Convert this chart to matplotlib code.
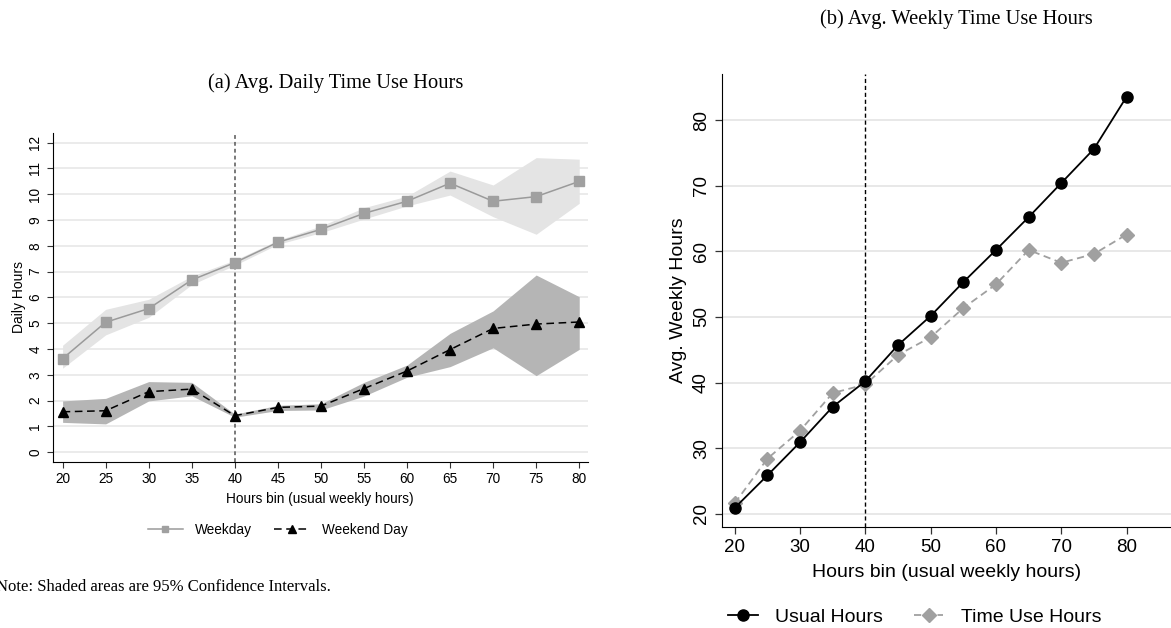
import matplotlib
matplotlib.use("Agg")
import matplotlib.pyplot as plt

# hours bins
bins = [20, 25, 30, 35, 40, 45, 50, 55, 60, 65, 70, 75, 80]

# (a) daily time use
weekday = [3.63, 5.04, 5.57, 6.68, 7.35, 8.14, 8.64, 9.26, 9.73, 10.43, 9.73, 9.91, 10.50]
weekday_lo = [3.26, 4.55, 5.23, 6.50, 7.25, 8.06, 8.51, 9.04, 9.55, 9.97, 9.13, 8.45, 9.65]
weekday_hi = [4.15, 5.54, 5.93, 6.83, 7.45, 8.22, 8.77, 9.48, 9.93, 10.90, 10.36, 11.42, 11.36]
weekend = [1.57, 1.61, 2.35, 2.45, 1.42, 1.74, 1.79, 2.47, 3.15, 3.98, 4.80, 4.97, 5.05]
weekend_lo = [1.16, 1.10, 1.99, 2.19, 1.36, 1.62, 1.64, 2.18, 2.91, 3.32, 4.05, 2.97, 3.99]
weekend_hi = [1.99, 2.09, 2.74, 2.71, 1.48, 1.82, 1.88, 2.71, 3.38, 4.61, 5.48, 6.87, 6.03]

# (b) weekly hours
usual_hours = [20.9, 25.85, 30.9, 36.3, 40.2, 45.7, 50.15, 55.3, 60.2, 65.2, 70.4, 75.6, 83.55]
time_use_hours = [21.6, 28.4, 32.66, 38.4, 39.7, 44.2, 46.9, 51.35, 54.96, 60.2, 58.25, 59.6, 62.55]

sans = ["Liberation Sans", "DejaVu Sans"]
serif = ["Liberation Serif", "DejaVu Serif"]
plt.rcParams["font.family"] = sans

fig = plt.figure(figsize=(11.71, 6.28), dpi=100)

# ---- panel (a)
ax1 = fig.add_axes([0.045, 0.265, 0.457, 0.523])
for y in range(0, 13):
    ax1.axhline(y, color="#e6e6e6", lw=1.1, zorder=0)
ax1.fill_between(bins, weekday_lo, weekday_hi, color="#e4e4e4", lw=0, zorder=1)
ax1.fill_between(bins, weekend_lo, weekend_hi, color="#b5b5b5", lw=0, zorder=1)
ax1.axvline(40, color="#555555", lw=1.1, ls=(0, (2.5, 2)), zorder=2)
ax1.plot(bins, weekday, color="#9a9a9a", lw=1.1, marker="s", ms=6.5,
         mfc="#a0a0a0", mec="#a0a0a0", label="Weekday", zorder=3)
ax1.plot(bins, weekend, color="black", lw=1.1, ls=(0, (5, 3)), marker="^", ms=7,
         mfc="black", mec="black", label="Weekend Day", zorder=3)
ax1.set_xlim(18.85, 81.0)
ax1.set_ylim(-0.36, 12.37)
ax1.set_xticks(bins)
ax1.set_yticks(range(0, 13))
ax1.tick_params(axis="both", labelsize=9.8, length=4, width=0.8, color="#333333")
plt.setp(ax1.get_yticklabels(), rotation=90, va="center")
ax1.set_xlabel("Hours bin (usual weekly hours)", fontsize=9.8, labelpad=4)
ax1.set_ylabel("Daily Hours", fontsize=10, labelpad=2)
for s in ["top", "right"]:
    ax1.spines[s].set_visible(False)
ax1.legend(loc="center", bbox_to_anchor=(0.42, -0.208), ncol=2, frameon=False,
           fontsize=9.8, handlelength=2.6, handletextpad=0.9, columnspacing=1.6,
           markerscale=0.75)
fig.text(336 / 1171, 1 - 83 / 628, "(a) Avg. Daily Time Use Hours",
         fontfamily=serif, fontsize=14.8, ha="center", va="center")

# ---- panel (b)
ax2 = fig.add_axes([0.6163, 0.161, 0.3837, 0.721])
for y in range(20, 90, 10):
    ax2.axhline(y, color="#e6e6e6", lw=1.3, zorder=0)
ax2.axvline(40, color="black", lw=1.0, ls=(0, (3, 2)), zorder=2)
ax2.plot(bins, usual_hours, color="black", lw=1.3, marker="o", ms=8,
         label="Usual Hours", zorder=4)
ax2.plot(bins, time_use_hours, color="#a0a0a0", lw=1.3, ls=(0, (4, 2.5)), marker="D",
         ms=7.5, mfc="#a0a0a0", mec="#a0a0a0", label="Time Use Hours", zorder=3)
ax2.set_xlim(18, 86.8)
ax2.set_ylim(18, 87)
ax2.set_xticks(range(20, 90, 10))
ax2.set_yticks(range(20, 90, 10))
ax2.tick_params(axis="both", labelsize=13.5, length=5, width=0.9, color="#333333")
plt.setp(ax2.get_yticklabels(), rotation=90, va="center")
ax2.set_xlabel("Hours bin (usual weekly hours)", fontsize=14, labelpad=6)
ax2.set_ylabel("Avg. Weekly Hours", fontsize=14, labelpad=4)
for s in ["top", "right"]:
    ax2.spines[s].set_visible(False)
ax2.legend(loc="center", bbox_to_anchor=(0.43, -0.2), ncol=2, frameon=False,
           fontsize=14, handlelength=1.5, handletextpad=0.9, columnspacing=1.6)
fig.text(956 / 1171, 1 - 19 / 628, "(b) Avg. Weekly Time Use Hours",
         fontfamily=serif, fontsize=14.8, ha="center", va="center")

fig.text(-0.003, 0.065, "Note: Shaded areas are 95% Confidence Intervals.",
         fontfamily=serif, fontsize=12, ha="left", va="center")

fig.savefig("out.png", dpi=100)
